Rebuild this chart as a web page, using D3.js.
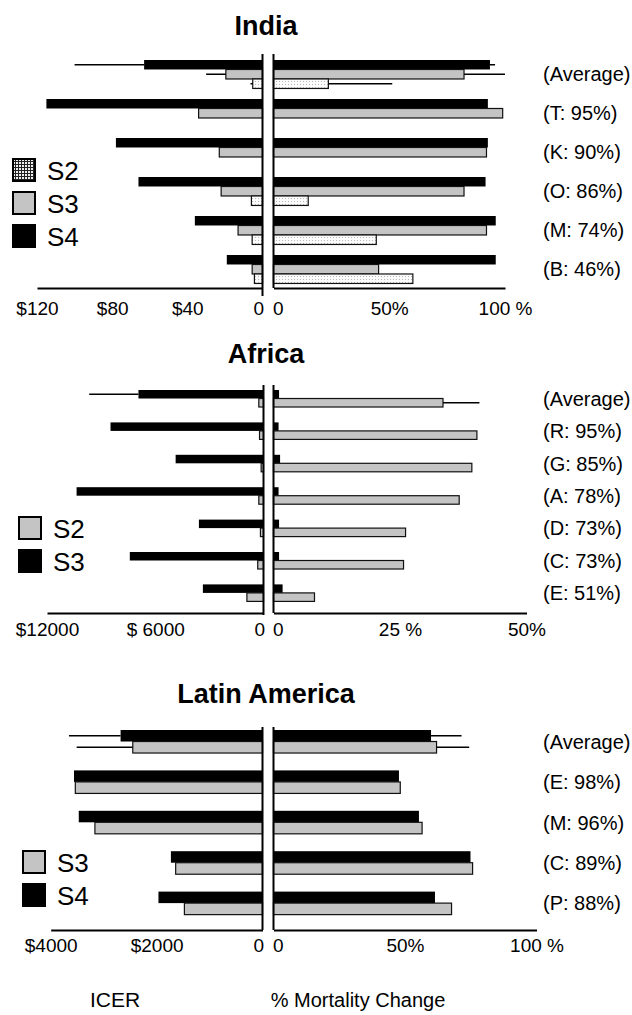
<!DOCTYPE html>
<html>
<head>
<meta charset="utf-8">
<script src="https://cdn.jsdelivr.net/npm/d3@7"></script>
<style>
body { margin: 0; background: #fff; }
svg { display: block; font-family: "Liberation Sans", Arial, sans-serif; }
</style>
</head>
<body>
<svg id="chart"></svg>
<script>
// ---- data ----
// India (S4 / S3 / S2)
var indiaRows = ["(Average)", "(T: 95%)", "(K: 90%)", "(O: 86%)", "(M: 74%)", "(B: 46%)"];
var indiaSeries = ["S4", "S3", "S2"];
var indiaIcerS4 = [63, 115, 78, 66, 36, 19];
var indiaIcerS3 = [19.5, 34, 23, 22, 13, 5.5];
var indiaIcerS2 = [5.2, 0, 0, 5.9, 5.5, 4.3];
var indiaMortS4 = [93.5, 92.6, 92.6, 91.6, 96, 96];
var indiaMortS3 = [82.3, 99, 92, 82.3, 92, 45.4];
var indiaMortS2 = [23.7, 0, 0, 15, 44.4, 60.2];
var indiaIcerErr = [100, 30, 6.4];   // upper end of error bar on (Average)
var indiaMortErr = [95.7, 100, 51.3];
var indiaIcerTicks = [120, 80, 40, 0];
var indiaIcerTickLabels = ["$120", "$80", "$40", "0"];
var indiaMortTicks = [0, 50, 100];
var indiaMortTickLabels = ["0", "50%", "100 %"];

// Africa (S3 / S2)
var africaRows = ["(Average)", "(R: 95%)", "(G: 85%)", "(A: 78%)", "(D: 73%)", "(C: 73%)", "(E: 51%)"];
var africaSeries = ["S3", "S2"];
var africaIcerS3 = [6930, 8480, 4870, 10360, 3580, 7410, 3360];
var africaIcerS2 = [260, 220, 130, 260, 170, 320, 920];
var africaMortS3 = [1.1, 1.0, 1.3, 1.0, 1.1, 1.1, 1.8];
var africaMortS2 = [33.5, 40.2, 39.2, 36.7, 26.1, 25.7, 8.1];
var africaIcerErr = [9660, 0];
var africaMortErr = [0, 40.7];
var africaIcerTicks = [12000, 6000, 0];
var africaIcerTickLabels = ["$12000", "$ 6000", "0"];
var africaMortTicks = [0, 25, 50];
var africaMortTickLabels = ["0", "25 %", "50%"];

// Latin America (S4 / S3)
var latamRows = ["(Average)", "(E: 98%)", "(M: 96%)", "(C: 89%)", "(P: 88%)"];
var latamSeries = ["S4", "S3"];
var latamIcerS4 = [2680, 3560, 3470, 1730, 1965];
var latamIcerS3 = [2450, 3535, 3165, 1640, 1475];
var latamMortS4 = [59.9, 47.7, 55.3, 74.9, 61.4];
var latamMortS3 = [62, 48.2, 56.5, 75.7, 67.7];
var latamIcerErr = [3655, 3510];
var latamMortErr = [71.5, 74.4];
var latamIcerTicks = [4000, 2000, 0];
var latamIcerTickLabels = ["$4000", "$2000", "0"];
var latamMortTicks = [0, 50, 100];
var latamMortTickLabels = ["0", "50%", "100 %"];

var screen = {width: 632, height: 1015};

var svg = d3.select("#chart")
    .attr("width", screen.width)
    .attr("height", screen.height);

// patterns for the S2 fills
var defs = svg.append("defs");
var dots = defs.append("pattern").attr("id", "dots")
    .attr("width", 3).attr("height", 3).attr("patternUnits", "userSpaceOnUse");
dots.append("rect").attr("width", 3).attr("height", 3).attr("fill", "#fbfbfb");
dots.append("rect").attr("width", 1).attr("height", 1).attr("fill", "#b8b8b8");

var grid = defs.append("pattern").attr("id", "grid")
    .attr("width", 3).attr("height", 3).attr("patternUnits", "userSpaceOnUse");
grid.append("rect").attr("width", 3).attr("height", 3).attr("fill", "#eee");
grid.append("path").attr("d", "M0,0.5H3M0.5,0V3").attr("stroke", "#222").attr("stroke-width", 1);

var styles = {
    black: {fill: "#000", stroke: "none"},
    gray: {fill: "#c4c4c4", stroke: "#111"},
    dots: {fill: "url(#dots)", stroke: "#111"},
    grid: {fill: "url(#grid)", stroke: "#111"}
};

var drawPanel = function(p)
{
    var g = svg.append("g");
    var n = p.rows.length;

    var yScale = d3.scaleBand()
        .domain(p.rows)
        .range([p.top, p.top + p.step * (n - p.pad)])
        .paddingInner(p.pad)
        .paddingOuter(0);
    var sScale = d3.scaleBand()
        .domain(p.series)
        .range([0, yScale.bandwidth()]);

    var xLeft = d3.scaleLinear().domain([0, p.leftMax]).range([p.leftZero, p.leftEnd]);
    var xRight = d3.scaleLinear().domain([0, p.rightMax]).range([p.rightZero, p.rightEnd]);

    // flatten to one record per bar
    var bars = [];
    p.rows.forEach(function(r, i)
    {
        p.series.forEach(function(s, j)
        {
            bars.push({row: r, series: s, style: p.styles[j], icer: p.icer[j][i], mort: p.mort[j][i]});
        });
    });

    var barY = function(d) { return yScale(d.row) + sScale(d.series); };

    g.selectAll(".left")
        .data(bars.filter(function(d) { return d.icer > 0; }))
        .enter()
        .append("rect").attr("class", "left")
        .attr("x", function(d) { return xLeft(d.icer); })
        .attr("y", barY)
        .attr("width", function(d) { return xLeft(0) - xLeft(d.icer); })
        .attr("height", sScale.bandwidth())
        .attr("fill", function(d) { return styles[d.style].fill; })
        .attr("stroke", function(d) { return styles[d.style].stroke; })
        .attr("stroke-width", 1.2);

    g.selectAll(".right")
        .data(bars.filter(function(d) { return d.mort > 0; }))
        .enter()
        .append("rect").attr("class", "right")
        .attr("x", xRight(0))
        .attr("y", barY)
        .attr("width", function(d) { return xRight(d.mort) - xRight(0); })
        .attr("height", sScale.bandwidth())
        .attr("fill", function(d) { return styles[d.style].fill; })
        .attr("stroke", function(d) { return styles[d.style].stroke; })
        .attr("stroke-width", 1.2);

    // error bars, only on the (Average) row
    var errs = [];
    p.series.forEach(function(s, j)
    {
        if (p.icerErr[j] > 0) errs.push({series: s, x1: xLeft(p.icer[j][0]), x2: xLeft(p.icerErr[j])});
        if (p.mortErr[j] > 0) errs.push({series: s, x1: xRight(p.mort[j][0]), x2: xRight(p.mortErr[j])});
    });
    g.selectAll(".err")
        .data(errs)
        .enter()
        .append("line").attr("class", "err")
        .attr("x1", function(d) { return d.x1; })
        .attr("x2", function(d) { return d.x2; })
        .attr("y1", function(d) { return yScale(p.rows[0]) + sScale(d.series) + sScale.bandwidth() / 2; })
        .attr("y2", function(d) { return yScale(p.rows[0]) + sScale(d.series) + sScale.bandwidth() / 2; })
        .attr("stroke", "#000")
        .attr("stroke-width", 1.5);

    // vertical zero lines
    g.append("line")
        .attr("x1", xLeft(0)).attr("x2", xLeft(0))
        .attr("y1", p.axisTop).attr("y2", p.baseline + p.leftExt)
        .attr("stroke", "#000").attr("stroke-width", 2);
    g.append("line")
        .attr("x1", xRight(0)).attr("x2", xRight(0))
        .attr("y1", p.axisTop).attr("y2", p.baseline)
        .attr("stroke", "#000").attr("stroke-width", 2);

    // bottom axes (no tick marks, just the line and labels)
    var leftAxis = d3.axisBottom(xLeft)
        .tickValues(p.leftTicks)
        .tickSize(0).tickSizeOuter(0)
        .tickFormat(function(d, i) { return p.leftTickLabels[i]; });
    var rightAxis = d3.axisBottom(xRight)
        .tickValues(p.rightTicks)
        .tickSize(0).tickSizeOuter(0)
        .tickFormat(function(d, i) { return p.rightTickLabels[i]; });

    [[leftAxis, "L"], [rightAxis, "R"]].forEach(function(a)
    {
        var ax = g.append("g")
            .attr("transform", "translate(0," + p.baseline + ")")
            .call(a[0]);
        ax.select(".domain").attr("stroke", "#000").attr("stroke-width", 2);
        ax.selectAll("text")
            .attr("font-family", "Liberation Sans, Arial, sans-serif")
            .attr("font-size", 19)
            .attr("fill", "#000")
            .attr("y", p.labelGap)
            .attr("dy", 0)
            .attr("text-anchor", function(d)
            {
                if (d === 0) return a[1] === "L" ? "end" : "start";
                return "middle";
            })
            .attr("dx", function(d)
            {
                if (d === 0) return a[1] === "L" ? 1 : -1;
                return 0;
            });
    });

    // row labels on the right
    g.selectAll(".rowlab")
        .data(p.rows)
        .enter()
        .append("text").attr("class", "rowlab")
        .attr("x", 543)
        .attr("y", function(d) { return yScale(d) + yScale.bandwidth() / 2; })
        .attr("dy", "0.36em")
        .attr("font-size", 20)
        .text(function(d) { return d; });

    // title
    g.append("text")
        .attr("x", 266).attr("y", p.titleY)
        .attr("text-anchor", "middle")
        .attr("font-size", 27)
        .attr("font-weight", "bold")
        .text(p.title);

    // legend (bottom-most series first in the figure -> reversed)
    var leg = p.series.map(function(s, j) { return {name: s, style: p.legendStyles[j]}; }).reverse();
    var lg = g.selectAll(".leg")
        .data(leg)
        .enter()
        .append("g").attr("class", "leg")
        .attr("transform", function(d, i) { return "translate(" + p.legendX + "," + (p.legendY + i * 33) + ")"; });
    lg.append("rect")
        .attr("x", 1).attr("y", 1)
        .attr("width", 22).attr("height", 22)
        .attr("fill", function(d) { return styles[d.style].fill; })
        .attr("stroke", "#000")
        .attr("stroke-width", 2);
    lg.append("text")
        .attr("x", 35).attr("y", 22)
        .attr("font-size", 26)
        .text(function(d) { return d.name; });
};

drawPanel({
    title: "India", titleY: 35,
    rows: indiaRows, series: indiaSeries,
    styles: ["black", "gray", "dots"], legendStyles: ["black", "gray", "grid"],
    icer: [indiaIcerS4, indiaIcerS3, indiaIcerS2],
    mort: [indiaMortS4, indiaMortS3, indiaMortS2],
    icerErr: indiaIcerErr, mortErr: indiaMortErr,
    leftMax: 120, leftZero: 262.5, leftEnd: 37,
    rightMax: 100, rightZero: 273.5, rightEnd: 505,
    leftTicks: indiaIcerTicks, leftTickLabels: indiaIcerTickLabels,
    rightTicks: indiaMortTicks, rightTickLabels: indiaMortTickLabels,
    top: 60, step: 39, pad: 0.27,
    baseline: 288, axisTop: 54, leftExt: 8, labelGap: 27,
    legendX: 12, legendY: 158
});

drawPanel({
    title: "Africa", titleY: 363,
    rows: africaRows, series: africaSeries,
    styles: ["black", "gray"], legendStyles: ["black", "gray"],
    icer: [africaIcerS3, africaIcerS2],
    mort: [africaMortS3, africaMortS2],
    icerErr: africaIcerErr, mortErr: africaMortErr,
    leftMax: 12000, leftZero: 263.5, leftEnd: 47,
    rightMax: 50, rightZero: 273.5, rightEnd: 526.5,
    leftTicks: africaIcerTicks, leftTickLabels: africaIcerTickLabels,
    rightTicks: africaMortTicks, rightTickLabels: africaMortTickLabels,
    top: 390, step: 32.4, pad: 0.475,
    baseline: 613, axisTop: 385, leftExt: 2, labelGap: 23,
    legendX: 18, legendY: 516
});

drawPanel({
    title: "Latin America", titleY: 703,
    rows: latamRows, series: latamSeries,
    styles: ["black", "gray"], legendStyles: ["black", "gray"],
    icer: [latamIcerS4, latamIcerS3],
    mort: [latamMortS4, latamMortS3],
    icerErr: latamIcerErr, mortErr: latamMortErr,
    leftMax: 4000, leftZero: 262.5, leftEnd: 50.7,
    rightMax: 100, rightZero: 273.5, rightEnd: 536.5,
    leftTicks: latamIcerTicks, leftTickLabels: latamIcerTickLabels,
    rightTicks: latamMortTicks, rightTickLabels: latamMortTickLabels,
    top: 730, step: 40.4, pad: 0.43,
    baseline: 930, axisTop: 727, leftExt: 0, labelGap: 22,
    legendX: 22, legendY: 850
});

// axis captions at the bottom
svg.append("text")
    .attr("x", 115).attr("y", 1007)
    .attr("text-anchor", "middle")
    .attr("font-size", 21)
    .text("ICER");
svg.append("text")
    .attr("x", 358).attr("y", 1007)
    .attr("text-anchor", "middle")
    .attr("font-size", 20)
    .text("% Mortality Change");
</script>
</body>
</html>
